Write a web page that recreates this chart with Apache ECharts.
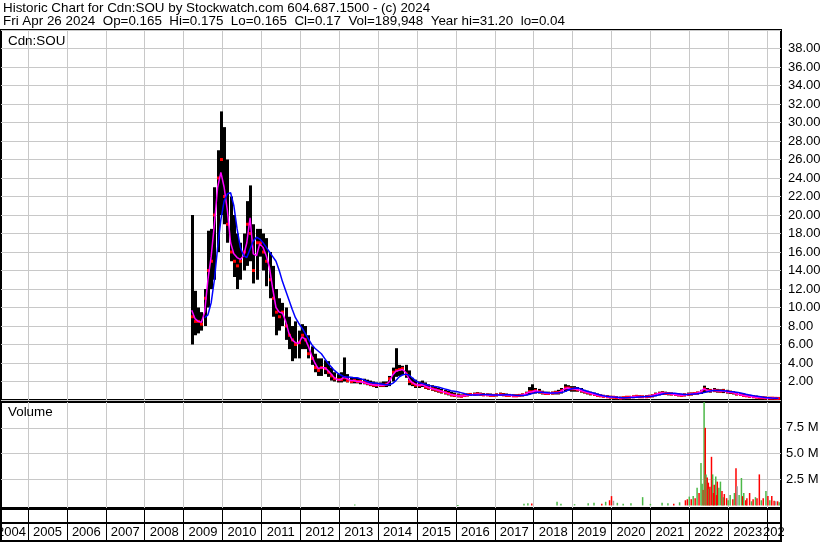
<!DOCTYPE html>
<html><head><meta charset="utf-8">
<script src="https://cdn.jsdelivr.net/npm/echarts@6/dist/echarts.min.js"></script>
<style>html,body{margin:0;padding:0;background:#fff}#c{width:830px;height:543px}</style>
</head><body><div id="c"></div>
<script>
// ---------- DATA ----------
const yearLabels = ['2004','2005','2006','2007','2008','2009','2010','2011','2012','2013','2014','2015','2016','2017','2018','2019','2020','2021','2022','2023','2024'];
const firstMonth = '2009-03'; // monthly bars from Mar 2009 to Apr 2024
const high = [
 20,11.8,10,9.5,12,18.3,18.5,23,27,31.2,
 29.5,26,22,20,18,17,18,21.5,23.2,19,18.5,18.5,
 18,17.5,16,14.5,12,11,10.5,10,9,8,8.5,7.5,
 8.2,8,7,5.8,5,4.5,4.5,4.3,4.2,3.5,3,2.8,
 3,4.6,2.8,2.5,2.4,2.4,2.3,2.3,2.2,2.1,2,1.9,
 1.9,2,2,2.6,3.5,5.6,3.8,3.7,3.8,3.2,2.4,2.2,
 2,2.1,1.9,1.7,1.6,1.5,1.3,1.2,1.1,1,0.9,0.8,
 0.7,0.6,0.65,0.7,0.75,0.8,0.85,0.8,0.75,0.7,0.7,0.65,
 0.7,0.8,0.75,0.7,0.65,0.6,0.6,0.65,0.7,0.9,1.4,1.7,
 1.3,1.2,1.0,0.9,0.9,0.9,1.0,1.1,1.3,1.7,1.6,1.5,
 1.5,1.4,1.3,1.1,1.0,0.9,0.8,0.7,0.6,0.55,0.5,0.45,
 0.4,0.4,0.35,0.35,0.4,0.4,0.45,0.5,0.5,0.45,0.5,0.55,
 0.6,0.8,0.9,0.95,0.9,0.85,0.8,0.75,0.7,0.65,0.7,0.8,
 0.8,0.85,0.9,1.1,1.55,1.3,1.2,1.3,1.2,1.15,1.2,1.1,
 1.0,0.95,0.85,0.75,0.7,0.6,0.55,0.5,0.45,0.4,0.35,0.35,
 0.3,0.28,0.25,0.22
];
const low = [
 6.0,7.0,7.2,7.5,8,10,12,13,16,20,
 19,17,15,13.3,12,13,14,14.5,15,12.6,13,15.5,
 14,12.3,11,9,7,7.5,8,6.5,5.5,4.2,4.5,4.5,
 5.5,5.5,4.5,3.8,3,2.6,2.6,2.8,2.5,2.1,2.0,1.9,
 1.9,2.0,1.9,1.8,1.8,1.8,1.7,1.7,1.6,1.5,1.4,1.3,
 1.4,1.4,1.4,1.5,2.0,2.5,2.6,2.7,2.4,1.6,1.5,1.3,
 1.3,1.4,1.2,1.1,1.0,0.9,0.8,0.7,0.6,0.5,0.4,0.35,
 0.3,0.3,0.35,0.4,0.45,0.45,0.5,0.5,0.45,0.45,0.4,0.4,
 0.4,0.45,0.45,0.4,0.4,0.35,0.35,0.4,0.4,0.5,0.6,0.7,
 0.7,0.7,0.6,0.55,0.55,0.6,0.6,0.6,0.7,0.9,1.0,0.9,
 0.9,0.9,0.8,0.7,0.6,0.5,0.45,0.4,0.35,0.3,0.3,0.25,
 0.2,0.2,0.15,0.15,0.2,0.2,0.25,0.3,0.3,0.25,0.25,0.3,
 0.3,0.4,0.5,0.55,0.55,0.5,0.5,0.45,0.4,0.4,0.4,0.45,
 0.5,0.55,0.6,0.65,0.8,0.85,0.8,0.85,0.8,0.8,0.75,0.7,
 0.65,0.6,0.5,0.45,0.4,0.35,0.3,0.3,0.25,0.2,0.2,0.18,
 0.15,0.15,0.14,0.14
];
const close = [
 9,8.5,8.5,8.2,11,14,15,20,24,26,
 22,19,16,15,14.5,15,16,19,18,14,17,17,
 16,15,13,11,9.5,9,9.5,8,7,6.5,6,6.2,
 7,6.5,5,4.5,3.5,3.2,3.5,3.4,3,2.6,2.3,2.2,
 2.2,2.4,2.1,2.0,2.1,2.0,2.0,1.9,1.8,1.7,1.6,1.6,
 1.6,1.6,1.7,2.3,3.0,3.2,3.3,3.4,2.8,2.0,1.8,1.6,
 1.6,1.7,1.4,1.3,1.2,1.1,1.0,0.9,0.8,0.7,0.55,0.5,
 0.45,0.4,0.5,0.55,0.6,0.6,0.65,0.6,0.55,0.55,0.5,0.5,
 0.55,0.6,0.55,0.5,0.5,0.45,0.45,0.5,0.55,0.7,0.9,0.9,
 1.0,0.9,0.8,0.7,0.7,0.75,0.8,0.8,1.0,1.3,1.3,1.2,
 1.2,1.1,1.0,0.9,0.8,0.7,0.6,0.5,0.45,0.4,0.35,0.3,
 0.3,0.25,0.2,0.25,0.3,0.3,0.35,0.4,0.35,0.35,0.35,0.4,
 0.45,0.6,0.7,0.75,0.7,0.7,0.65,0.6,0.55,0.5,0.55,0.6,
 0.65,0.7,0.75,0.9,1.2,1.0,1.0,1.05,1.0,0.95,1.0,0.9,
 0.85,0.8,0.65,0.6,0.5,0.45,0.4,0.35,0.3,0.25,0.25,0.22,
 0.2,0.2,0.18,0.17
];
const maShort = [
 9.7,8.8,8.5,8.4,9.5,13,15.5,19,23,24.6,
 23,20.5,17,15.8,15.4,15.2,15.6,17,19.7,15.8,15.6,16.9,
 16.5,15.6,14.3,12,10,9.5,9.4,8.5,7.2,6.5,6.2,6.1,
 6.8,6.6,5.8,4.8,4.0,3.4,3.5,3.5,3.2,2.8,2.4,2.2,
 2.2,2.5,2.3,2.1,2.1,2.0,2.0,1.9,1.8,1.7,1.65,1.6,
 1.6,1.6,1.65,2.0,2.7,3.1,3.2,3.3,3.0,2.3,1.9,1.7,
 1.6,1.65,1.5,1.35,1.25,1.15,1.05,0.95,0.85,0.72,0.6,0.52,
 0.47,0.42,0.45,0.52,0.58,0.6,0.63,0.62,0.57,0.55,0.52,0.5,
 0.53,0.58,0.57,0.52,0.5,0.46,0.45,0.48,0.53,0.65,0.85,0.9,
 1.0,0.92,0.82,0.72,0.7,0.73,0.78,0.8,0.95,1.2,1.3,1.22,
 1.2,1.12,1.02,0.92,0.82,0.72,0.62,0.52,0.46,0.41,0.36,0.31,
 0.29,0.26,0.21,0.23,0.28,0.3,0.34,0.39,0.37,0.35,0.36,0.4,
 0.46,0.6,0.7,0.75,0.72,0.7,0.66,0.6,0.55,0.5,0.54,0.6,
 0.65,0.7,0.75,0.9,1.2,1.05,1.0,1.05,1.0,0.96,0.98,0.9,
 0.85,0.8,0.66,0.6,0.5,0.45,0.4,0.35,0.3,0.26,0.25,0.22,
 0.2,0.2,0.18,0.17
];
const maLong = [
 null,null,null,null,8.9,9.2,10.5,13,16.5,19.5,
 21.5,22.3,22.4,21,18.5,16.5,15.6,15.4,16.3,17.2,17.6,17.4,
 17,16.5,16,15.5,15.0,14.0,12.8,11.8,10.8,9.8,8.9,8.3,
 7.8,7.2,6.6,6.0,5.6,5.3,5.0,4.5,4.0,3.6,3.2,2.9,
 2.7,2.5,2.5,2.45,2.4,2.4,2.3,2.2,2.0,1.9,1.85,1.8,
 1.75,1.7,1.65,1.65,1.8,2.1,2.5,2.7,2.8,2.7,2.4,2.1,
 1.9,1.8,1.7,1.6,1.5,1.45,1.4,1.3,1.2,1.1,1.0,0.95,
 0.9,0.8,0.7,0.6,0.55,0.55,0.55,0.57,0.6,0.6,0.58,0.55,
 0.53,0.53,0.55,0.57,0.56,0.53,0.5,0.48,0.48,0.52,0.6,0.7,
 0.8,0.85,0.85,0.82,0.78,0.75,0.75,0.77,0.8,0.9,1.05,1.2,
 1.28,1.3,1.2,1.05,0.95,0.85,0.75,0.65,0.55,0.45,0.4,0.35,
 0.32,0.3,0.28,0.25,0.25,0.26,0.28,0.3,0.33,0.36,0.37,0.38,
 0.4,0.45,0.53,0.62,0.7,0.74,0.74,0.72,0.68,0.64,0.6,0.6,
 0.62,0.65,0.68,0.72,0.8,0.9,0.98,1.02,1.03,1.02,1.0,0.97,
 0.93,0.9,0.85,0.78,0.7,0.62,0.55,0.48,0.42,0.37,0.32,0.28,
 0.25,0.22,0.2,0.19
];
// volume spikes (decimal year, millions, direction: 1 up / -1 down / 0 unchanged)
const volDates = [2013.4,2016.05,2017.75,2017.85,2017.95,2018.6,2018.7,2019.05,2019.4,2019.55,2019.75,2019.85,2019.95,2020.0,2020.05,2020.15,2020.3,2020.5,2020.8,2021.0,2021.3,2021.45,2021.6,2021.75,2021.9,2021.95,2022.0,2022.05,2022.1,2022.15,2022.2,2022.25,2022.3,2022.33,2022.36,2022.38,2022.41,2022.43,2022.46,2022.49,2022.51,2022.53,2022.57,2022.6,2022.62,2022.64,2022.68,2022.7,2022.72,2022.76,2022.8,2022.84,2022.87,2022.9,2022.96,2023.0,2023.05,2023.12,2023.16,2023.2,2023.23,2023.28,2023.34,2023.37,2023.4,2023.45,2023.48,2023.55,2023.6,2023.64,2023.7,2023.74,2023.8,2023.85,2023.9,2023.97,2024.02,2024.07,2024.12,2024.18,2024.22,2024.27,2024.31];
const volValues = [0.08,0.05,0.15,0.22,0.18,0.35,0.15,0.12,0.2,0.25,0.15,0.35,0.5,0.9,0.45,0.25,0.15,0.2,0.8,0.15,0.25,0.2,0.15,0.3,0.5,0.6,0.85,0.6,0.9,0.7,1.7,1.2,4.1,2.1,1.5,10.1,7.5,3.0,2.7,2.2,1.6,1.8,4.7,3.0,1.2,2.0,2.8,1.0,2.3,1.7,2.3,1.4,0.8,1.1,0.7,0.5,1.0,0.6,1.2,3.6,1.85,1.0,2.65,0.9,1.2,0.5,0.7,1.2,0.4,0.6,0.8,0.7,3.0,0.5,0.7,1.4,0.9,0.5,0.9,0.45,0.4,0.4,0.3];
const volDir = [1,1,1,1,-1,1,1,1,1,1,-1,1,-1,-1,0,1,1,1,1,1,1,1,-1,1,-1,-1,1,-1,1,-1,1,-1,1,1,-1,1,-1,1,-1,-1,1,-1,-1,1,-1,-1,1,-1,-1,1,1,-1,1,-1,-1,1,1,-1,1,-1,0,1,1,-1,1,-1,-1,-1,1,-1,1,-1,-1,1,-1,1,-1,1,-1,-1,0,-1,1];

// ---------- BUILD ----------
const FONT = 'Liberation Sans, Arial, sans-serif';
const [fy, fm] = firstMonth.split('-').map(Number);
const monthT = high.map((_, i) => { const k = fm - 1 + i; return fy + Math.floor(k/12) + ((k%12)+0.5)/12; });
const barData = monthT.map((t,i) => [t, high[i], low[i], close[i]]);
const shortData = monthT.map((t,i) => [t, maShort[i]]);
const longData = monthT.map((t,i) => [t, maLong[i]]);
const volData = volDates.map((t,i) => [t, volValues[i], volDir[i]]);

const xMin = 2004.306, xMax = 2024.357;
const yearBounds = yearLabels.slice(1).map(Number);
const labelPos = yearLabels.map(y => { const Y = Number(y); return Y === 2004 ? 2004.576 : (Y === 2024 ? 2024.267 : Y + 0.5); });

function xAx(gi, splitColor, labels) {
  return {
    type:'value', gridIndex:gi, min:xMin, max:xMax, position:'bottom',
    axisLine:{show:false},
    axisTick:{show:false, customValues: yearBounds},
    splitLine:{show:true, lineStyle:{color:splitColor, width:1}},
    axisLabel: labels ? {show:true, inside:true, margin:2, customValues: labelPos, fontFamily:FONT, fontSize:13, color:'#000',
      formatter: v => String(Math.floor(v))} : {show:false}
  };
}
const gridBase = {left:1, right:49, show:true, borderColor:'#000', borderWidth:2, backgroundColor:'#fff', outerBoundsMode:'none', containLabel:false};
const txt = (text, left, top) => ({text, left, top, padding:0, textStyle:{fontFamily:FONT, fontSize:13.4, fontWeight:'normal', color:'#000'}});

const option = {
  animation:false,
  backgroundColor:'#fff',
  title:[
    txt('Historic Chart for Cdn:SOU by Stockwatch.com 604.687.1500 - (c) 2024', 3, 2),
    txt('Fri Apr 26 2024  Op=0.165  Hi=0.175  Lo=0.165  Cl=0.17  Vol=189,948  Year hi=31.20  lo=0.04', 3, 15),
    txt('Cdn:SOU', 8, 35),
    txt('Volume', 8, 406)
  ],
  grid:[
    Object.assign({}, gridBase, {top:30, height:370}),
    Object.assign({}, gridBase, {top:402, height:106}),
    Object.assign({}, gridBase, {top:509, height:14}),
    Object.assign({}, gridBase, {top:523, height:18})
  ],
  xAxis:[ xAx(0,'#c8c8c8'), xAx(1,'#c8c8c8'), xAx(2,'#000'), xAx(3,'#000',true) ],
  yAxis:[
    {type:'value', gridIndex:0, position:'right', min:0, max:40, interval:2,
     axisLine:{show:false}, axisTick:{show:false},
     splitLine:{show:true, lineStyle:{color:'#c8c8c8'}},
     axisLabel:{margin:7, fontFamily:FONT, fontSize:13, color:'#000', formatter: v => (v<=0||v>=40)?'':v.toFixed(2)}},
    {type:'value', gridIndex:1, position:'right', min:-0.25, max:10,
     axisLine:{show:false}, axisTick:{show:false, customValues:[2.5,5,7.5]},
     splitLine:{show:true, lineStyle:{color:'#c8c8c8'}},
     axisLabel:{margin:5, customValues:[2.5,5,7.5], fontFamily:FONT, fontSize:13, color:'#000', formatter: v => v.toFixed(1)+' M'}},
    {type:'value', gridIndex:2, show:false, min:0, max:1},
    {type:'value', gridIndex:3, show:false, min:0, max:1}
  ],
  graphic:[
    {type:'rect', z:100, shape:{x:784, y:511, width:46, height:32}, style:{fill:'#fff'}}
  ],
  series:[
    {type:'custom', xAxisIndex:0, yAxisIndex:0, clip:true, z:2, data:barData,
     encode:{x:0, y:[1,2,3]},
     renderItem:(params, api) => {
       const t = api.value(0);
       const pH = api.coord([t, api.value(1)]);
       const pL = api.coord([t, api.value(2)]);
       const pC = api.coord([t, api.value(3)]);
       const x0 = Math.round(pH[0]) - 1;
       return {type:'group', children:[
         {type:'rect', shape:{x:x0, y:pH[1], width:3, height:Math.max(1.5, pL[1]-pH[1])}, style:{fill:'#000'}},
         {type:'rect', shape:{x:x0, y:pC[1]-1.5, width:3, height:3}, style:{fill:'#ff0000'}}
       ]};
     }},
    {type:'line', xAxisIndex:0, yAxisIndex:0, z:3, data:shortData, showSymbol:false, symbol:'none',
     lineStyle:{color:'#ff00ff', width:1.5}},
    {type:'line', xAxisIndex:0, yAxisIndex:0, z:4, data:longData, showSymbol:false, symbol:'none',
     lineStyle:{color:'#0000ff', width:1.5}},
    {type:'custom', xAxisIndex:1, yAxisIndex:1, clip:true, z:2, data:volData,
     encode:{x:0, y:1},
     renderItem:(params, api) => {
       const t = api.value(0), d = api.value(2);
       const pT = api.coord([t, api.value(1)]);
       const pB = api.coord([t, 0]);
       return {type:'rect', shape:{x:pT[0]-0.75, y:pT[1], width:1.5, height:Math.max(1, pB[1]-pT[1])},
         style:{fill: d > 0 ? '#4cb848' : (d < 0 ? '#ff0000' : '#a0a0a0')}};
     }}
  ]
};
const chart = echarts.init(document.getElementById('c'));
chart.setOption(option);
</script>
</body></html>
